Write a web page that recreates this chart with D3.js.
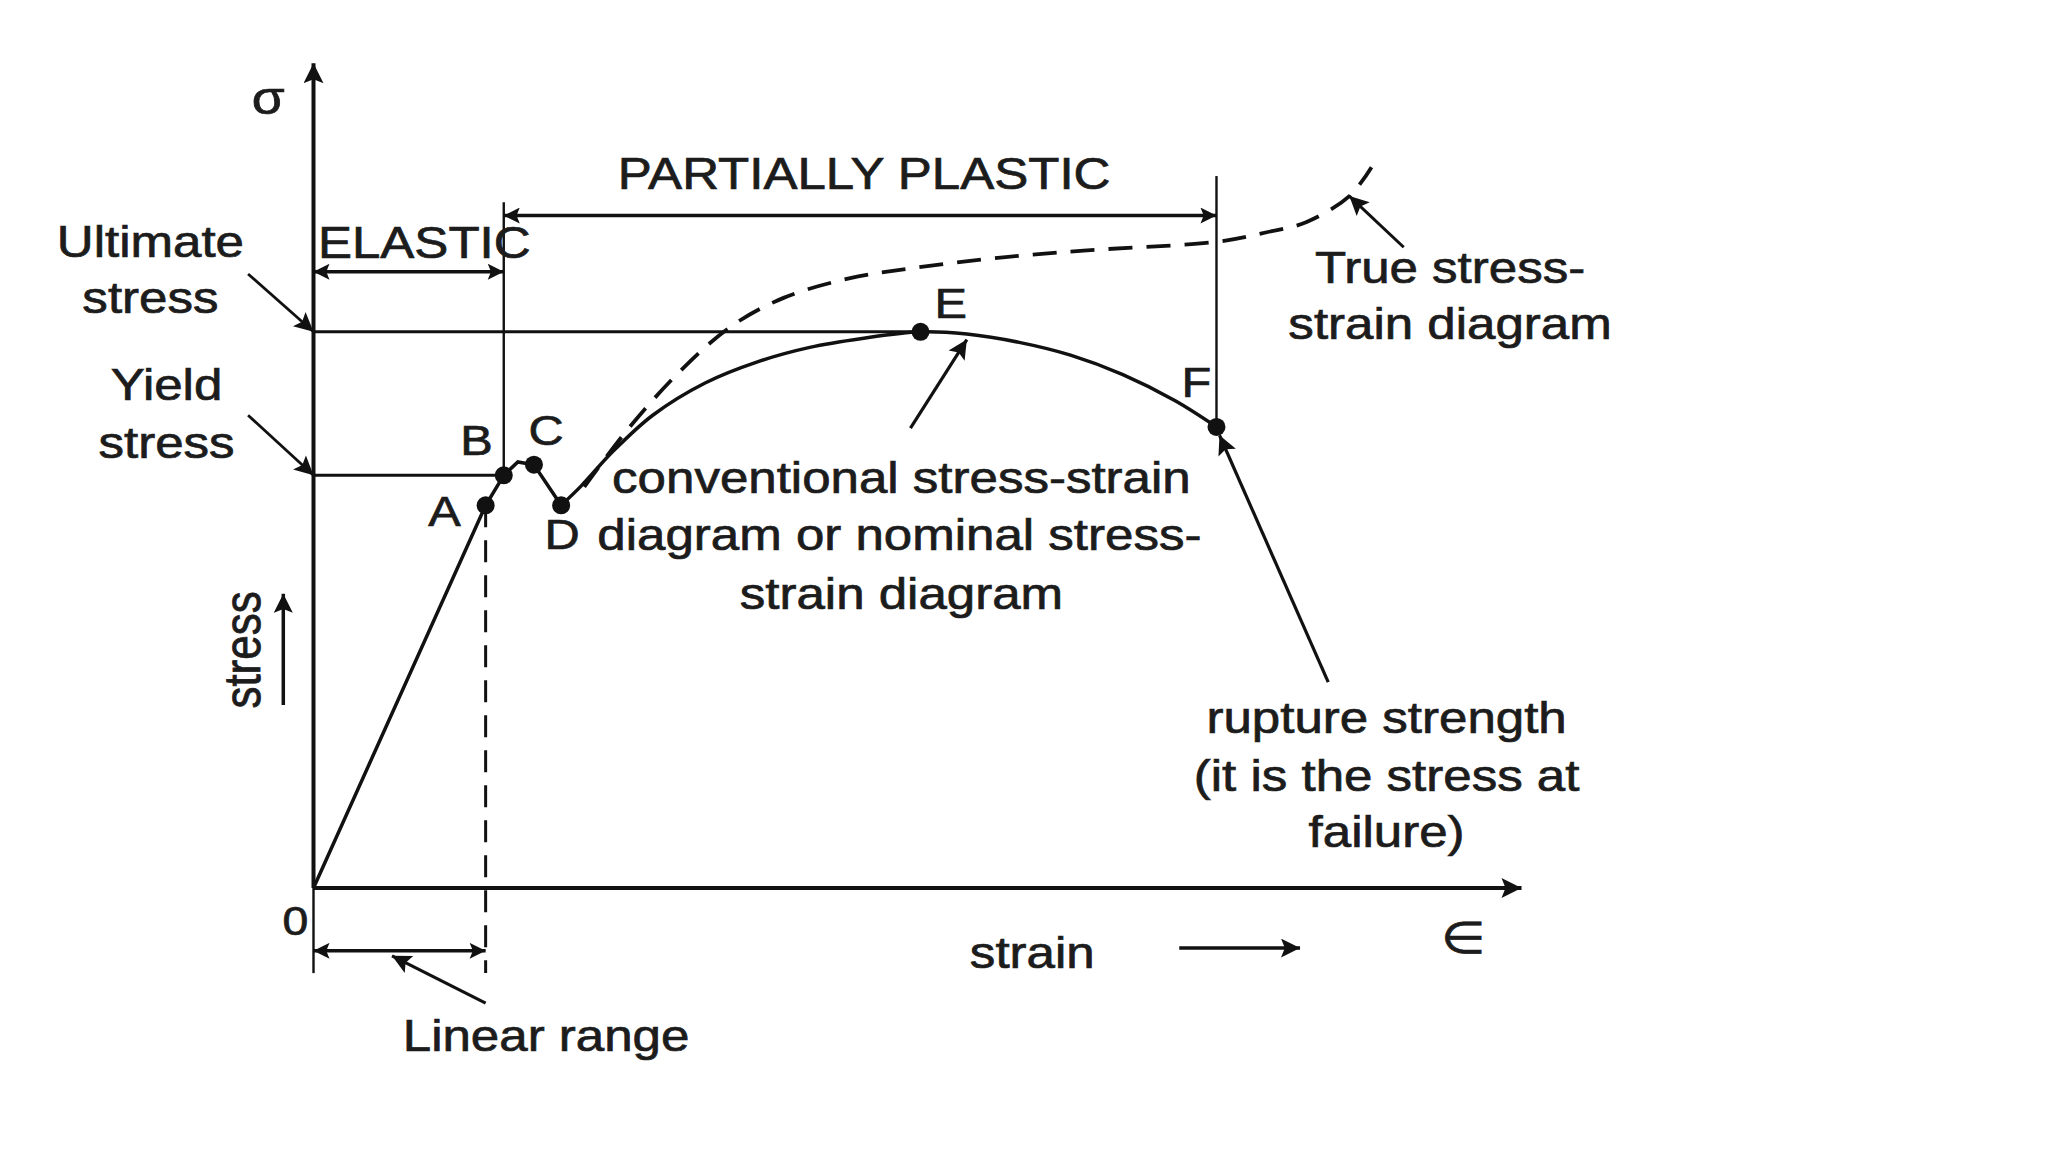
<!DOCTYPE html>
<html>
<head>
<meta charset="utf-8">
<script src="https://cdn.jsdelivr.net/npm/d3@7/dist/d3.min.js"></script>
<style>
  html, body { margin: 0; padding: 0; background: #fff; }
  svg text { font-family: "Liberation Sans", Arial, sans-serif; fill: #1c1c1c; stroke: #1c1c1c; stroke-width: 0.7px; }
</style>
</head>
<body>
<div id="container"></div>
<script>
var width = 2048, height = 1152;

// ---- data (strain in arbitrary units, stress in % of ultimate stress) ----
var pointNames   = ["A", "B", "C", "D", "E", "F"];
var pointStrain  = [17.1, 18.9, 21.9, 24.6, 60.3, 89.7];
var pointStress  = [68.8, 74.2, 76.1, 68.8, 100, 82.9];

// conventional (nominal) curve: linear part O..D, then smooth D..F
var linStrain    = [0, 17.1, 18.9, 20.3, 21.9, 24.6];
var linStress    = [0, 68.8, 74.2, 76.6, 76.1, 68.8];
var nomStrain    = [24.6, 26.6, 29.8, 33.7, 38.9, 44.1, 49.3, 54.5, 60.3, 64.9, 70.1, 75.2, 80.4, 85.6, 89.7];
var nomStress    = [68.8, 72.3, 78.6, 85.0, 90.8, 94.6, 97.2, 98.8, 100, 99.6, 98.1, 95.8, 92.3, 87.6, 82.9];

// true stress-strain curve (dashed)
var trueStrain   = [26.9, 31.1, 36.3, 41.5, 46.7, 53.2, 59.7, 67.5, 76.5, 89.8, 94.7, 98.6, 102.9, 105.1];
var trueStress   = [72.1, 82.2, 92.7, 101.0, 106.1, 109.6, 111.5, 113.2, 114.6, 116.2, 117.9, 119.7, 124.4, 129.6];

var ultimateStress = 100, yieldStress = 74.2;
var strainMax = 120, stressMax = 148.3;

// ---- scales ----
var x = d3.scaleLinear().domain([0, strainMax]).range([313.5, 1521.5]);
var y = d3.scaleLinear().domain([0, ultimateStress]).range([888, 331.8]);

var svg = d3.select("#container").append("svg")
  .attr("width", width)
  .attr("height", height);
svg.append("rect").attr("width", width).attr("height", height).attr("fill", "#fff");

var defs = svg.append("defs");
function marker(id, len, wid){
  defs.append("marker")
    .attr("id", id)
    .attr("viewBox", "0 0 10 10")
    .attr("refX", 10).attr("refY", 5)
    .attr("markerUnits", "userSpaceOnUse")
    .attr("markerWidth", len).attr("markerHeight", wid)
    .attr("orient", "auto-start-reverse")
    .append("path").attr("d", "M0,0 L10,5 L0,10 L2,5 z").attr("fill", "#111");
}
marker("axisHead", 30, 20);
marker("dimHead", 26, 16);
marker("ptrHead", 28, 19);

function seg(x1, y1, x2, y2, w, opts){
  opts = opts || {};
  var l = svg.append("line")
    .attr("x1", x(x1)).attr("y1", y(y1))
    .attr("x2", x(x2)).attr("y2", y(y2))
    .attr("stroke", "#111").attr("stroke-width", w);
  if(opts.dash) l.attr("stroke-dasharray", opts.dash);
  if(opts.end) l.attr("marker-end", "url(#" + opts.end + ")");
  if(opts.start) l.attr("marker-start", "url(#" + opts.start + ")");
  return l;
}

// axes
seg(0, 0, 0, stressMax, 4, {end: "axisHead"});
seg(0, 0, strainMax, 0, 4, {end: "axisHead"});

// guide lines
var A = 0, B = 1, E = 4, F = 5;
seg(0, ultimateStress, pointStrain[E], ultimateStress, 3);
seg(0, yieldStress, pointStrain[B], yieldStress, 3);
seg(pointStrain[B], pointStress[B], pointStrain[B], 123.3, 2.4);
seg(pointStrain[F], pointStress[F], pointStrain[F], 128, 2.4);
seg(pointStrain[A], pointStress[A], pointStrain[A], -15.3, 3, {dash: "22,13"});
seg(0, 0, 0, -15.3, 2.4);

// dimension arrows
seg(0, 110.8, pointStrain[B], 110.8, 3.5, {start: "dimHead", end: "dimHead"});
seg(pointStrain[B], 120.9, pointStrain[F], 120.9, 3.5, {start: "dimHead", end: "dimHead"});
seg(0, -11.3, pointStrain[A], -11.3, 3.5, {start: "dimHead", end: "dimHead"});

// curves
var line = d3.line().x(function(d){ return x(d[0]); }).y(function(d){ return y(d[1]); });
svg.append("path")
  .datum(d3.zip(linStrain, linStress))
  .attr("d", line.curve(d3.curveLinear))
  .attr("fill", "none").attr("stroke", "#111").attr("stroke-width", 3.5);
svg.append("path")
  .datum(d3.zip(nomStrain, nomStress))
  .attr("d", line.curve(d3.curveCatmullRom))
  .attr("fill", "none").attr("stroke", "#111").attr("stroke-width", 3.5);
svg.append("path")
  .datum(d3.zip(trueStrain, trueStress))
  .attr("d", line.curve(d3.curveCatmullRom))
  .attr("fill", "none").attr("stroke", "#111").attr("stroke-width", 3.8)
  .attr("stroke-dasharray", "24,14");

// key points
svg.selectAll("circle.pt")
  .data(d3.zip(pointStrain, pointStress))
  .enter().append("circle")
  .attr("class", "pt")
  .attr("cx", function(d){ return x(d[0]); })
  .attr("cy", function(d){ return y(d[1]); })
  .attr("r", 9)
  .attr("fill", "#111");

// pointer arrows
seg(-6.5, 110.4, 0, ultimateStress, 2.8, {end: "ptrHead"});
seg(-6.5, 85.0, 0, yieldStress, 2.8, {end: "ptrHead"});
seg(59.3, 82.7, 64.9, 98.6, 3.2, {end: "ptrHead"});
seg(108.3, 115.2, 102.9, 124.4, 3, {end: "ptrHead"});
seg(100.8, 37.0, 90.0, 81.4, 3.2, {end: "ptrHead"});
seg(17.1, -20.7, 7.8, -12.2, 3.2, {end: "ptrHead"});
seg(86.0, -10.8, 98.0, -10.8, 3.5, {end: "ptrHead"});
seg(-3.0, 32.9, -3.0, 52.9, 3.5, {end: "ptrHead"});

// labels
var stretch = 1.16;
function label(txt, sx, sy, size, rot){
  var t = svg.append("text")
    .attr("text-anchor", "middle")
    .attr("dominant-baseline", "central")
    .attr("font-size", size)
    .text(txt);
  if(rot){
    t.attr("transform", "translate(" + x(sx) + "," + y(sy) + ") rotate(" + rot + ") scale(1," + stretch + ")");
  }else{
    t.attr("transform", "translate(" + x(sx) + "," + y(sy) + ") scale(" + stretch + ",1)");
  }
  return t;
}

label("Ultimate", -16.2, 116.1, 44);
label("stress", -16.2, 106.1, 44);
label("Yield", -14.6, 90.4, 44);
label("stress", -14.6, 80.0, 44);
label("ELASTIC", 11.0, 116.0, 44);
label("PARTIALLY PLASTIC", 54.7, 128.4, 44);
label("σ", -4.5, 142.0, 46);
label("0", -1.8, -5.9, 40);
label("∈", 114.2, -9.0, 44);
label("strain", 71.4, -11.7, 44);
label("stress", -7.1, 42.8, 44, -90);
label("Linear range", 23.1, -26.6, 44);
label("conventional stress-strain", 58.4, 73.7, 44);
label("diagram or nominal stress-", 58.2, 63.5, 44);
label("strain diagram", 58.4, 52.9, 44);
label("True stress-", 112.9, 111.5, 44);
label("strain diagram", 112.9, 101.4, 44);
label("rupture strength", 106.6, 30.6, 44);
label("(it is the stress at", 106.6, 20.1, 44);
label("failure)", 106.6, 10.1, 44);

var letterPos = [[13.0, 67.6], [16.2, 80.4], [23.1, 82.2], [24.7, 63.5], [63.3, 105.0], [87.7, 90.8]];
pointNames.forEach(function(n, i){
  label(n, letterPos[i][0], letterPos[i][1], 42);
});
</script>
</body>
</html>
